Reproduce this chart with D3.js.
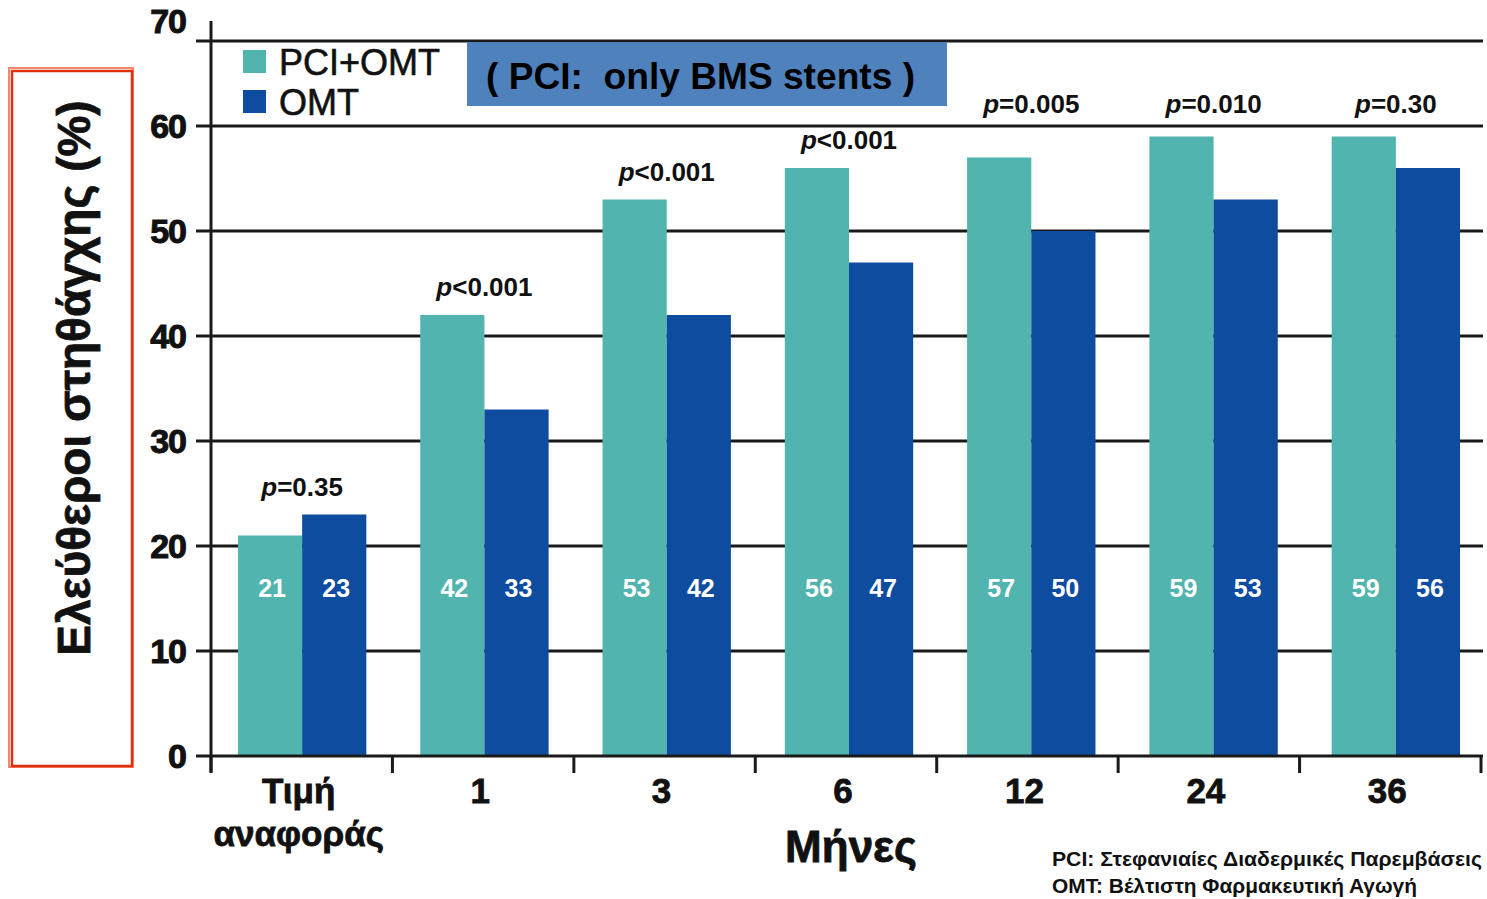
<!DOCTYPE html>
<html><head><meta charset="utf-8">
<script src="https://cdn.jsdelivr.net/npm/d3@7/dist/d3.min.js"></script>
<style>
body{margin:0;background:#fff;}
svg{display:block;font-family:"Liberation Sans",Arial,sans-serif;}
</style></head>
<body>
<svg id="chart" width="1487" height="899"></svg>
<script>
const categories = ["Τιμή\nαναφοράς","1","3","6","12","24","36"];
const seriesNames = ["PCI+OMT","OMT"];
const pciOmt = [21,42,53,56,57,59,59];
const omt = [23,33,42,47,50,53,56];
const pValues = ["=0.35","<0.001","<0.001","<0.001","=0.005","=0.010","=0.30"];
const yTicks = [0,10,20,30,40,50,60,70];
const colors = ["#52b4ae","#0e4ca0"];

const svg = d3.select("#chart");
const y = d3.scaleLinear().domain([0,70]).range([756,21]);
// axis bands (ticks) and bar bands
const xAxis = d3.scaleBand().domain(categories).range([211,1481]).padding(0);
const x = d3.scaleBand().domain(categories).range([211,1487]).padding(0);
const xs = d3.scaleBand().domain(seriesNames).range([0,x.bandwidth()]).paddingInner(0).paddingOuter(0.42);

// gridlines
svg.append("g").selectAll("line").data(yTicks.filter(d=>d>0&&d<70)).join("line")
  .attr("x1",196).attr("x2",1483).attr("y1",d=>y(d)).attr("y2",d=>y(d))
  .attr("stroke","#1a1a1a").attr("stroke-width",3);
// top frame line
svg.append("line").attr("x1",196).attr("x2",1483).attr("y1",y(68.1)).attr("y2",y(68.1))
  .attr("stroke","#1a1a1a").attr("stroke-width",3);

// bars
const data = categories.map((c,i)=>({c,vals:[pciOmt[i],omt[i]],p:pValues[i]}));
const g = svg.append("g").selectAll("g").data(data).join("g")
  .attr("transform",d=>`translate(${x(d.c)},0)`);
g.selectAll("rect").data(d=>d.vals.map((v,j)=>({v,s:seriesNames[j],j}))).join("rect")
  .attr("x",d=>xs(d.s)).attr("width",xs.bandwidth())
  .attr("y",d=>y(d.v)).attr("height",d=>y(0)-y(d.v))
  .attr("fill",d=>colors[d.j]);
g.selectAll("text.val").data(d=>d.vals.map((v,j)=>({v,s:seriesNames[j]}))).join("text")
  .attr("class","val")
  .attr("x",d=>xs(d.s)+xs.bandwidth()/2+2).attr("y",y(16)).attr("dy","0.35em")
  .attr("text-anchor","middle").attr("fill","#fff").attr("font-weight","bold")
  .attr("font-size",25).text(d=>d.v);
// p labels
const pPos = d => { const v = Math.max(...d.vals)+1.8; return v > 58 ? 61.2 : v; };
g.append("text")
  .attr("x",x.bandwidth()/2)
  .attr("y",d=>y(pPos(d)))
  .attr("text-anchor","middle").attr("font-size",26).attr("font-weight","bold").attr("fill","#111")
  .call(t=>{
    t.append("tspan").attr("font-style","italic").text("p");
    t.append("tspan").text(d=>d.p);
  });

// y axis
svg.append("line").attr("x1",211).attr("x2",211).attr("y1",y(70)).attr("y2",772)
  .attr("stroke","#1a1a1a").attr("stroke-width",3);
svg.append("g").selectAll("text").data(yTicks).join("text")
  .attr("x",186).attr("y",d=>y(d)).attr("dy","0.36em")
  .attr("text-anchor","end").attr("font-weight","bold").attr("font-size",34)
  .attr("fill","#111").attr("stroke","#111").attr("stroke-width",1)
  .attr("letter-spacing",-1).text(d=>d);

// x axis
svg.append("line").attr("x1",196).attr("x2",1483).attr("y1",y(0)).attr("y2",y(0))
  .attr("stroke","#1a1a1a").attr("stroke-width",3);
const edges = categories.map(c=>xAxis(c)).concat([xAxis.range()[1]]);
svg.append("g").selectAll("line").data(edges).join("line")
  .attr("x1",d=>d).attr("x2",d=>d).attr("y1",y(0)).attr("y2",773)
  .attr("stroke","#1a1a1a").attr("stroke-width",3);
svg.append("g").selectAll("text").data(categories).join("text")
  .attr("x",d=>xAxis(d)+xAxis.bandwidth()/2-3).attr("y",803)
  .attr("text-anchor","middle").attr("font-weight","bold").attr("font-size",35).attr("fill","#111")
  .attr("stroke","#111").attr("stroke-width",0.8)
  .each(function(d){
    const lines=d.split("\n");
    d3.select(this).selectAll("tspan").data(lines).join("tspan")
      .attr("x",xAxis(d)+xAxis.bandwidth()/2-3).attr("dy",(l,i)=>i?43:0).text(l=>l);
  });
svg.append("text").attr("x",851).attr("y",862).attr("text-anchor","middle")
  .attr("font-weight","bold").attr("font-size",44).attr("fill","#111")
  .attr("stroke","#111").attr("stroke-width",0.8).text("Μήνες");

// y title with red box
svg.append("rect").attr("x",9).attr("y",68).attr("width",124).attr("height",699)
  .attr("fill","none").attr("stroke","#f4866c").attr("stroke-width",2);
svg.append("rect").attr("x",12).attr("y",71).attr("width",120).attr("height",695)
  .attr("fill","none").attr("stroke","#e3300c").attr("stroke-width",2.5);
svg.append("text").attr("transform","translate(90,378) rotate(-90)")
  .attr("text-anchor","middle").attr("font-weight","bold").attr("font-size",46)
  .attr("fill","#111").attr("stroke","#111").attr("stroke-width",0.8)
  .text("Ελεύθεροι στηθάγχης (%)");

// legend
const lg = svg.append("g").selectAll("g").data(seriesNames).join("g")
  .attr("transform",(d,i)=>`translate(243,${50+i*40})`);
lg.append("rect").attr("width",23).attr("height",23).attr("fill",(d,i)=>colors[i]);
lg.append("text").attr("x",36).attr("y",12).attr("dy","0.36em").attr("font-size",36)
  .attr("fill","#111").attr("stroke","#111").attr("stroke-width",0.6).text(d=>d);

// note box
svg.append("rect").attr("x",467).attr("y",42).attr("width",480).attr("height",64).attr("fill","#4f81bd");
svg.append("text").attr("x",486).attr("y",89).attr("font-weight","bold").attr("font-size",36)
  .attr("fill","#000").attr("xml:space","preserve")
  .attr("textLength",429).attr("lengthAdjust","spacingAndGlyphs")
  .text("( PCI:  only BMS stents )");

// footnote
svg.append("text").attr("x",1052).attr("y",866).attr("font-weight","bold").attr("font-size",21)
  .attr("fill","#111").attr("textLength",430).attr("lengthAdjust","spacingAndGlyphs")
  .text("PCI: Στεφανιαίες Διαδερμικές Παρεμβάσεις");
svg.append("text").attr("x",1052).attr("y",893).attr("font-weight","bold").attr("font-size",21)
  .attr("fill","#111").attr("textLength",365).attr("lengthAdjust","spacingAndGlyphs")
  .text("OMT: Βέλτιστη Φαρμακευτική Αγωγή");
</script>
</body></html>
